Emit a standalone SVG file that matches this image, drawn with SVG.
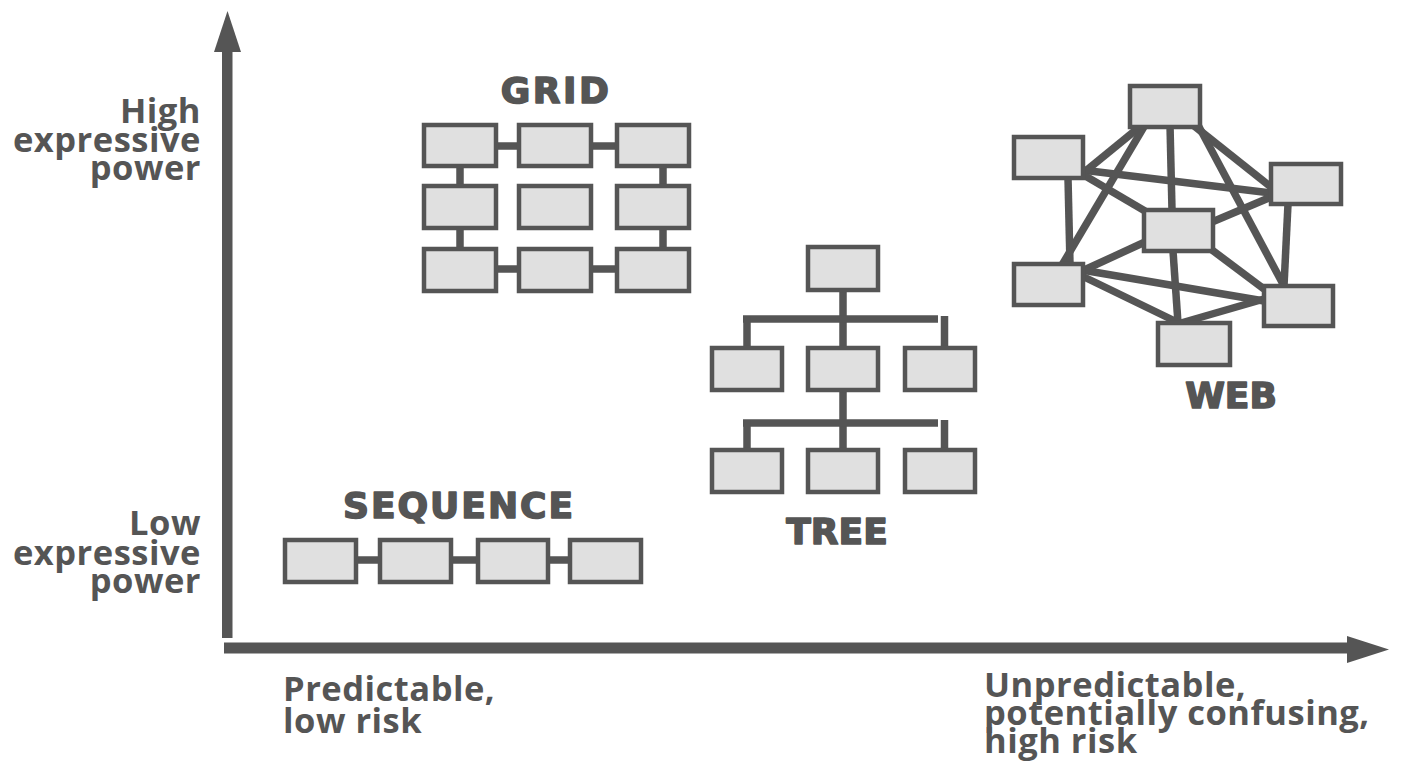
<svg xmlns="http://www.w3.org/2000/svg" width="1410" height="777" viewBox="0 0 1410 777">
<style>
.box{fill:#e0e0e0;stroke:#555;stroke-width:4.5}
.ln{stroke:#555;stroke-width:7.5;fill:none;stroke-linecap:butt}
.lbl{font-family:"Open Sans","Liberation Sans",sans-serif;font-weight:700;font-size:34.5px;letter-spacing:0.5px;fill:#555}
.ttl{font-family:"DejaVu Sans","Liberation Sans",sans-serif;font-weight:700;font-size:36px;fill:#555;stroke:#555;stroke-width:1.6;stroke-linejoin:round;text-anchor:middle}
.ax{fill:#555}
</style>
<rect width="1410" height="777" fill="#fff"/>
<g id="axes">
<rect class="ax" x="222" y="48" width="10.5" height="590"/>
<polygon class="ax" points="214,52 227.5,11 241,52"/>
<rect class="ax" x="224" y="642.5" width="1126" height="11"/>
<polygon class="ax" points="1347,636 1389,649.5 1347,663"/>
</g>
<g id="axis-labels">
<text class="lbl" text-anchor="end"><tspan x="201" y="123">High</tspan><tspan x="201" y="152">expressive</tspan><tspan x="201" y="180">power</tspan></text>
<text class="lbl" text-anchor="end"><tspan x="201" y="535">Low</tspan><tspan x="201" y="565">expressive</tspan><tspan x="201" y="593">power</tspan></text>
<text class="lbl"><tspan x="283" y="701">Predictable,</tspan><tspan x="283" y="733">low risk</tspan></text>
<text class="lbl"><tspan x="984" y="697">Unpredictable,</tspan><tspan x="984" y="725">potentially confusing,</tspan><tspan x="984" y="753">high risk</tspan></text>
</g>
<g id="connectors">
<line class="ln" x1="496" y1="146" x2="520" y2="146"/>
<line class="ln" x1="591" y1="146" x2="618" y2="146"/>
<line class="ln" x1="496" y1="269" x2="520" y2="269"/>
<line class="ln" x1="591" y1="269" x2="618" y2="269"/>
<line class="ln" x1="460" y1="166" x2="460" y2="186"/>
<line class="ln" x1="460" y1="228" x2="460" y2="249"/>
<line class="ln" x1="663" y1="166" x2="663" y2="186"/>
<line class="ln" x1="663" y1="228" x2="663" y2="249"/>
<line class="ln" x1="356" y1="560" x2="380" y2="560"/>
<line class="ln" x1="451" y1="560" x2="478" y2="560"/>
<line class="ln" x1="548" y1="560" x2="570" y2="560"/>
<line class="ln" x1="843" y1="290" x2="843" y2="348"/>
<line class="ln" x1="743" y1="319" x2="938" y2="319"/>
<line class="ln" x1="747" y1="316" x2="747" y2="348"/>
<line class="ln" x1="944.5" y1="316" x2="944.5" y2="348"/>
<line class="ln" x1="843" y1="390" x2="843" y2="450"/>
<line class="ln" x1="743" y1="423" x2="938" y2="423"/>
<line class="ln" x1="747" y1="420" x2="747" y2="450"/>
<line class="ln" x1="944.5" y1="420" x2="944.5" y2="450"/>
<line class="ln" x1="1142" y1="125" x2="1082" y2="174"/>
<line class="ln" x1="1145" y1="125" x2="1062" y2="265"/>
<line class="ln" x1="1170" y1="125" x2="1172" y2="210"/>
<line class="ln" x1="1193" y1="125" x2="1271" y2="187"/>
<line class="ln" x1="1198" y1="125" x2="1284" y2="286"/>
<line class="ln" x1="1082" y1="170" x2="1271" y2="193"/>
<line class="ln" x1="1082" y1="174" x2="1145" y2="211"/>
<line class="ln" x1="1068" y1="178" x2="1070" y2="264"/>
<line class="ln" x1="1271" y1="197" x2="1212" y2="222"/>
<line class="ln" x1="1288" y1="204" x2="1284" y2="286"/>
<line class="ln" x1="1145" y1="242" x2="1082" y2="271"/>
<line class="ln" x1="1173" y1="251" x2="1178" y2="323"/>
<line class="ln" x1="1212" y1="250" x2="1264" y2="289"/>
<line class="ln" x1="1082" y1="270" x2="1264" y2="301"/>
<line class="ln" x1="1082" y1="276" x2="1179" y2="323"/>
<line class="ln" x1="1264" y1="299" x2="1181" y2="323"/>
</g>
<g id="grid">
<text class="ttl" x="556" y="103" letter-spacing="2.5">GRID</text>
<g id="grid-r1c1"><rect class="box" x="424" y="125" width="72" height="41"/></g>
<g id="grid-r1c2"><rect class="box" x="519" y="125" width="72" height="41"/></g>
<g id="grid-r1c3"><rect class="box" x="617" y="125" width="72" height="41"/></g>
<g id="grid-r2c1"><rect class="box" x="424" y="186" width="72" height="42"/></g>
<g id="grid-r2c2"><rect class="box" x="519" y="186" width="72" height="42"/></g>
<g id="grid-r2c3"><rect class="box" x="617" y="186" width="72" height="42"/></g>
<g id="grid-r3c1"><rect class="box" x="424" y="249" width="72" height="42"/></g>
<g id="grid-r3c2"><rect class="box" x="519" y="249" width="72" height="42"/></g>
<g id="grid-r3c3"><rect class="box" x="617" y="249" width="72" height="42"/></g>
</g>
<g id="sequence">
<text class="ttl" x="459" y="518" letter-spacing="2">SEQUENCE</text>
<g id="seq-1"><rect class="box" x="285" y="540" width="71" height="42"/></g>
<g id="seq-2"><rect class="box" x="380" y="540" width="71" height="42"/></g>
<g id="seq-3"><rect class="box" x="478" y="540" width="70" height="42"/></g>
<g id="seq-4"><rect class="box" x="570" y="540" width="71" height="42"/></g>
</g>
<g id="tree">
<text class="ttl" x="837" y="544">TREE</text>
<g id="tree-root"><rect class="box" x="808" y="247" width="70" height="43"/></g>
<g id="tree-a1"><rect class="box" x="712" y="348" width="70" height="42"/></g>
<g id="tree-a2"><rect class="box" x="808" y="348" width="70" height="42"/></g>
<g id="tree-a3"><rect class="box" x="905" y="348" width="70" height="42"/></g>
<g id="tree-b1"><rect class="box" x="712" y="450" width="70" height="42"/></g>
<g id="tree-b2"><rect class="box" x="808" y="450" width="70" height="42"/></g>
<g id="tree-b3"><rect class="box" x="905" y="450" width="70" height="42"/></g>
</g>
<g id="web">
<text class="ttl" x="1231" y="408">WEB</text>
<g id="web-top"><rect class="box" x="1130" y="86" width="70" height="41"/></g>
<g id="web-left"><rect class="box" x="1014" y="137" width="69" height="41"/></g>
<g id="web-right"><rect class="box" x="1271" y="164" width="70" height="40"/></g>
<g id="web-center"><rect class="box" x="1144" y="210" width="69" height="41"/></g>
<g id="web-lowleft"><rect class="box" x="1014" y="264" width="69" height="41"/></g>
<g id="web-lowright"><rect class="box" x="1264" y="286" width="69" height="40"/></g>
<g id="web-bottom"><rect class="box" x="1158" y="323" width="72" height="42"/></g>
</g>
</svg>
